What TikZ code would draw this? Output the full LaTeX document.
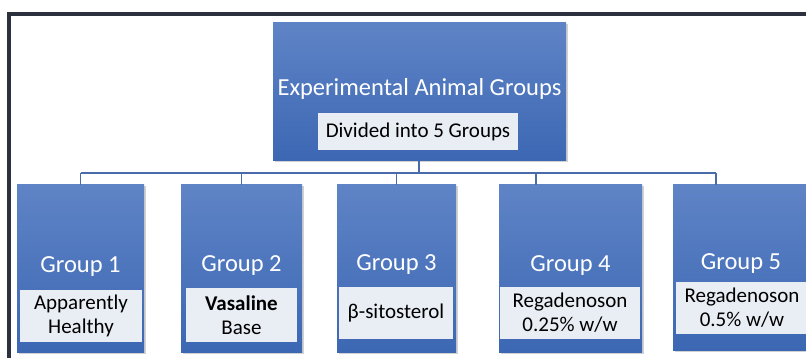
\documentclass[tikz,border=0pt]{standalone}
\usepackage{fontspec}
\setmainfont{Carlito}
\usetikzlibrary{positioning,shadows}
\definecolor{frame}{HTML}{2B313D}
\definecolor{btop}{HTML}{5F84C6}
\definecolor{bbot}{HTML}{3C67B3}
\definecolor{wbox}{HTML}{E9EDF4}
\definecolor{link}{HTML}{4A6BAA}
\tikzset{
  bluebox/.style={rectangle, inner sep=0pt, top color=btop, bottom color=bbot, draw=none,
     drop shadow={shadow xshift=1.5pt, shadow yshift=-1.5pt, fill=black, opacity=0.18}},
  labelbox/.style={rectangle, inner sep=0pt, fill=wbox, draw=none, align=center,
     font=\fontsize{21}{24}\selectfont, text=black},
  headtext/.style={inner sep=0pt, text=white, font=\fontsize{24.5}{28}\selectfont},
  link/.style={draw=link, line width=1.3pt},
}
\begin{document}
\begin{tikzpicture}[x=1pt,y=-1pt]
\useasboundingbox (0,0) rectangle (806,358);
\clip (0,0) rectangle (806,358);
\fill[white] (0,0) rectangle (806,358);
% frame
\draw[frame, line width=3.5pt] (8.8,360) -- (8.8,14) -- (810,14);

% top box
\node[bluebox, minimum width=293pt, minimum height=138pt] (top) at (419.5,92) {};
\node[headtext] (title) at (419.5,89) {Experimental Animal Groups};
\node[labelbox, minimum width=200pt, minimum height=37pt] (div) at (418,131.5) {Divided into 5 Groups};

% group boxes
\node[bluebox, minimum width=127pt, minimum height=167pt] (g1) at (80.5,268.5) {};
\node[bluebox, minimum width=121pt, minimum height=167pt] (g2) at (241.5,268.5) {};
\node[bluebox, minimum width=119pt, minimum height=167pt] (g3) at (396.5,268.5) {};
\node[bluebox, minimum width=143pt, minimum height=167pt] (g4) at (570.5,268.5) {};
\node[bluebox, minimum width=150pt, minimum height=165pt] (g5) at (748,267.5) {};

\node[headtext] (t1) at (80.5,267) {Group 1};
\node[headtext] (t2) at (241.5,266) {Group 2};
\node[headtext] (t3) at (396.5,265) {Group 3};
\node[headtext] (t4) at (570.5,266) {Group 4};
\node[headtext] (t5) at (741,264) {Group 5};

\node[labelbox, minimum width=122pt, minimum height=52pt] (l1) at (81,316) {Apparently\\Healthy};
\node[labelbox, minimum width=111pt, minimum height=54pt] (l2) at (241.5,315) {\textbf{Vasaline}\\Base};
\node[labelbox, minimum width=114pt, minimum height=52pt] (l3) at (396,313) {β-sitosterol};
\node[labelbox, minimum width=140pt, minimum height=52pt] (l4) at (570,313) {Regadenoson\\0.25\% w/w};
\node[labelbox, minimum width=132pt, minimum height=52pt] (l5) at (742,308) {Regadenoson\\0.5\% w/w};

% connectors
\coordinate (bus) at (419,173);
\coordinate (b1) at (80.5,173);
\coordinate (b2) at (241.5,173);
\coordinate (b3) at (396.5,173);
\coordinate (b4) at (536,173);
\coordinate (b5) at (716,173);
\draw[link] (top.south -| bus) -- (bus);
\draw[link] (b1) -- (b5);
\draw[link] (b1) -- (g1.north);
\draw[link] (b2) -- (g2.north);
\draw[link] (b3) -- (g3.north);
\draw[link] (b4) -- (g4.north -| b4);
\draw[link] (b5) -- (g5.north -| b5);
\end{tikzpicture}
\end{document}
